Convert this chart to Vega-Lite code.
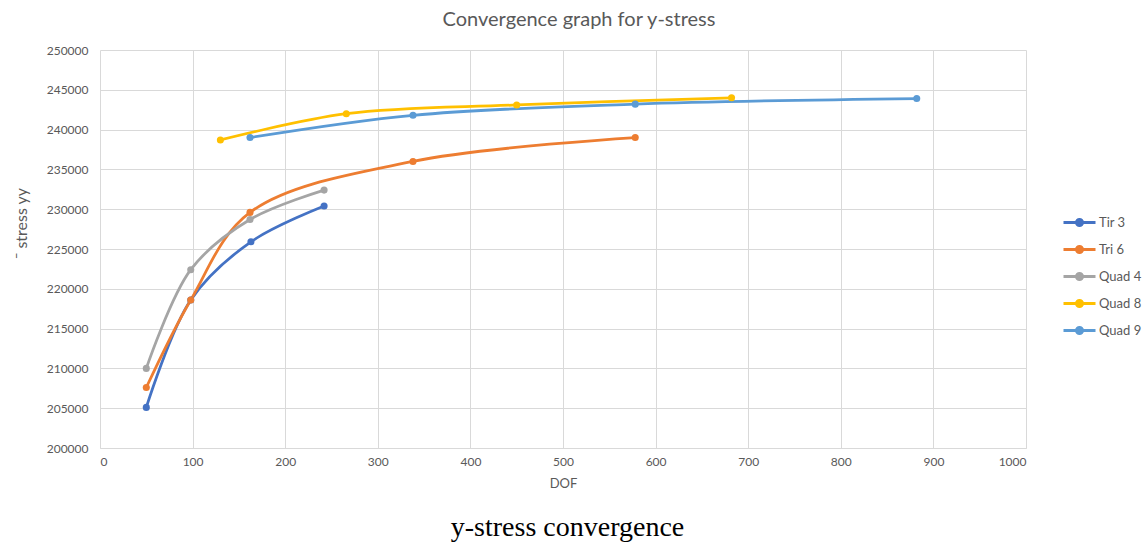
{
  "$schema": "https://vega.github.io/schema/vega-lite/v6.json",
  "width": 926,
  "height": 398,
  "autosize": {"type": "none"},
  "padding": {"left": 100, "top": 50, "right": 118, "bottom": 98},
  "background": "white",
  "config": {"view": {"stroke": null}, "font": "Lato"},
  "title": {"text": "Convergence graph for y-stress", "anchor": "middle", "frame": "group", "dx": 16, "fontSize": 20, "fontWeight": "normal", "color": "#595959", "font": "Lato", "offset": 14},
  "data": {"values": [
    {"series": "Tir 3", "DOF": 50, "stress": 205100},
    {"series": "Tir 3", "DOF": 98, "stress": 218600},
    {"series": "Tir 3", "DOF": 163, "stress": 225900},
    {"series": "Tir 3", "DOF": 242, "stress": 230400},
    {"series": "Tri 6", "DOF": 50, "stress": 207600},
    {"series": "Tri 6", "DOF": 98, "stress": 218600},
    {"series": "Tri 6", "DOF": 162, "stress": 229600},
    {"series": "Tri 6", "DOF": 338, "stress": 236000},
    {"series": "Tri 6", "DOF": 578, "stress": 239000},
    {"series": "Quad 4", "DOF": 50, "stress": 210000},
    {"series": "Quad 4", "DOF": 98, "stress": 222400},
    {"series": "Quad 4", "DOF": 162, "stress": 228700},
    {"series": "Quad 4", "DOF": 242, "stress": 232400},
    {"series": "Quad 8", "DOF": 130, "stress": 238700},
    {"series": "Quad 8", "DOF": 266, "stress": 242000},
    {"series": "Quad 8", "DOF": 450, "stress": 243100},
    {"series": "Quad 8", "DOF": 682, "stress": 244000},
    {"series": "Quad 9", "DOF": 162, "stress": 239000},
    {"series": "Quad 9", "DOF": 338, "stress": 241800},
    {"series": "Quad 9", "DOF": 578, "stress": 243200},
    {"series": "Quad 9", "DOF": 882, "stress": 243900}
  ]},
  "layer": [
    {
      "mark": {"type": "line", "interpolate": "catmull-rom", "strokeWidth": 2.75},
      "encoding": {
        "x": {"field": "DOF", "type": "quantitative", "scale": {"domain": [0, 1000], "nice": false},
          "axis": {"title": "DOF", "values": [0,100,200,300,400,500,600,700,800,900,1000], "format": "d", "labelOverlap": false, "grid": true, "gridColor": "#D9D9D9", "ticks": false, "domainColor": "#D9D9D9", "labelColor": "#595959", "labelFontSize": 12, "labelPadding": 8, "labelFont": "Lato", "titleFont": "Lato", "titleColor": "#595959", "titleFontSize": 13, "titleFontWeight": "normal", "titlePadding": 10}},
        "y": {"field": "stress", "type": "quantitative", "scale": {"domain": [200000, 250000], "nice": false, "zero": false},
          "axis": {"title": "¯ stress yy", "values": [200000,205000,210000,215000,220000,225000,230000,235000,240000,245000,250000], "tickCount": 11, "format": "d", "labelOverlap": false, "grid": true, "gridColor": "#D9D9D9", "ticks": false, "domain": false, "labelColor": "#595959", "labelFontSize": 12, "labelPadding": 12, "labelFont": "Lato", "titleFont": "Lato", "titleColor": "#595959", "titleFontSize": 16, "titleFontWeight": "normal", "titleX": -79, "titleY": 173, "titleBaseline": "middle", "titleAlign": "center"}},
        "color": {"field": "series", "type": "nominal",
          "scale": {"domain": ["Tir 3", "Tri 6", "Quad 4", "Quad 8", "Quad 9"], "range": ["#4472C4", "#ED7D31", "#A5A5A5", "#FFC000", "#5B9BD5"]},
          "legend": {"orient": "none", "legendX": 962, "legendY": 155, "title": null, "symbolType": "M-1,0L1,0M-0.19,0A0.19,0.19,0,1,1,0.19,0A0.19,0.19,0,1,1,-0.19,0Z", "symbolSize": 1024, "symbolStrokeWidth": 3, "labelFontSize": 13, "labelFont": "Lato", "labelColor": "#595959", "labelOffset": 2, "rowPadding": -1.3}}
      }
    },
    {
      "mark": {"type": "point", "filled": true, "size": 50, "opacity": 1},
      "encoding": {
        "x": {"field": "DOF", "type": "quantitative", "axis": null},
        "y": {"field": "stress", "type": "quantitative",
          "axis": {"title": "¯ stress yy", "values": [200000,205000,210000,215000,220000,225000,230000,235000,240000,245000,250000], "tickCount": 11, "format": "d", "labelOverlap": false, "grid": true, "gridColor": "#D9D9D9", "ticks": false, "domain": false, "labelColor": "#595959", "labelFontSize": 12, "labelPadding": 12, "labelFont": "Lato", "titleFont": "Lato", "titleColor": "#595959", "titleFontSize": 16, "titleFontWeight": "normal", "titleX": -79, "titleY": 173, "titleBaseline": "middle", "titleAlign": "center"}},
        "color": {"field": "series", "type": "nominal"}
      }
    },
    {
      "mark": {"type": "point", "opacity": 0},
      "encoding": {
        "x": {"field": "DOF", "type": "quantitative",
          "axis": {"orient": "bottom", "title": "y-stress convergence", "labels": false, "ticks": false, "domain": false, "grid": false, "titleFont": "Liberation Serif", "titleFontSize": 28, "titleFontWeight": "normal", "titleColor": "#000000", "titleX": 467, "titleY": 79, "titleBaseline": "middle", "titleAlign": "center"}}
      }
    }
  ],
  "resolve": {"axis": {"x": "independent"}}
}
